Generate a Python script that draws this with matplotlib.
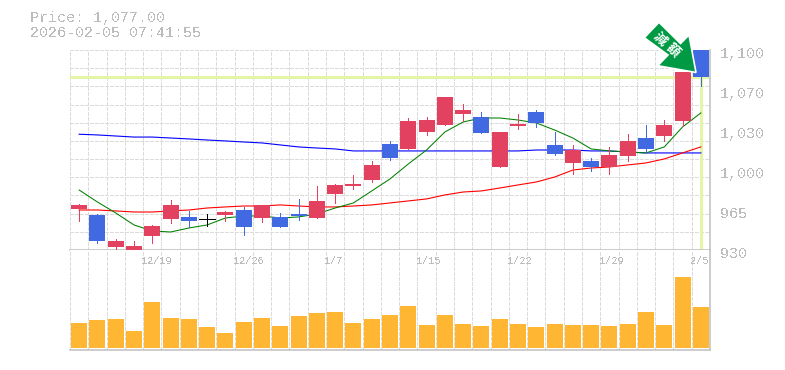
# Daily candlestick chart with moving averages and volume panel
import numpy as np
import matplotlib
matplotlib.use("Agg")
import matplotlib.pyplot as plt
from matplotlib.patches import Polygon
from matplotlib.transforms import blended_transform_factory

W, H = 785, 370

# Candles
opens = [965, 960, 932.5, 930, 942, 956.4, 958, 956, 959.8, 964, 957, 958, 960.6, 957.2, 977.6, 984.4, 989.5, 1020.1,
         1015.9, 1030.3, 1036.3, 1045.6, 1043, 1000.6, 1035.4, 1047.3, 1019.3, 1004, 1005.7, 1000.6, 1010, 1025.2,
         1026.9, 1039.7, 1100]
closes = [968, 937.5, 937.7, 933.4, 950.4, 968.3, 954.7, 956, 962.3, 949.5, 968.3, 949.5, 958.9, 971.7, 985.3, 986,
          1002.3, 1008.2, 1039.7, 1040.5, 1060, 1049, 1029.5, 1030.3, 1037.1, 1038, 1011.6, 1015, 1000.6, 1010.8,
          1022.7, 1015.9, 1036.3, 1081.3, 1077]
highs = [969, 960.6, 939.4, 938, 951.3, 972.5, 963, 960.6, 963, 966.5, 968.3, 961.5, 973.4, 984.4, 986, 993.8,
         1005.7, 1022.7, 1042.2, 1043, 1060, 1054.1, 1047.3, 1030.3, 1045.6, 1049, 1030.3, 1019.3, 1008.2, 1017.6,
         1028.6, 1036.3, 1040.5, 1081.3, 1100]
lows = [954.7, 936, 930, 930, 936, 953, 949.5, 950.4, 954.7, 942.8, 953.8, 949.5, 955.5, 957.2, 970, 982, 987.8,
        1006.5, 1015.9, 1027.8, 1036.3, 1039.7, 1029.5, 1000.6, 1032.9, 1034.6, 1010.8, 994.6, 997.2, 994.6, 1005.7,
        1012.5, 1022.7, 1035.4, 1069.4]

# Moving averages
ma_short = [981, 970.8, 961.5, 951.3, 946.2, 945.3, 948.7, 951.3, 957.2, 958.9, 958.9, 957.2, 958.1, 960.6, 965.7,
            970, 980.2, 990.4, 1003.1, 1015, 1030.3, 1038.8, 1042.2, 1042.2, 1040.5, 1038, 1032, 1025.2, 1015.9,
            1014.2, 1013.3, 1012.5, 1017.6, 1034.6, 1046.5]
ma_mid = [964, 964, 963.2, 962.3, 962.3, 963.2, 964, 965.7, 966.6, 967.4, 967.4, 968.3, 967.4, 966.6, 966.6, 967.4,
          968.3, 970, 971.7, 973.4, 976.8, 979.3, 980.2, 982.7, 985.3, 987.8, 992, 998, 999.7, 1000.6, 1002.3, 1004,
          1007.4, 1012.5, 1017.6]
ma_long = [1028.4, 1027.8, 1026.9, 1026, 1026, 1025.2, 1024.4, 1023.5, 1022.7, 1021.8, 1021, 1019.3, 1017.6, 1016.7,
           1015.9, 1014.2, 1014.2, 1014.2, 1014.2, 1014.2, 1014.2, 1014.2, 1014.2, 1014.2, 1014.2, 1015, 1015, 1015,
           1014.2, 1014.2, 1013.3, 1012.5, 1012.5, 1012.5, 1012.5]

# Volume, relative only since the chart has no scale for it
volume = [25, 28, 29, 17, 46, 30, 29, 21, 15, 26, 30, 22, 32, 35, 36, 25, 29, 33, 42, 23, 33, 24, 22, 29, 24, 21, 24,
          23, 23, 22, 24, 36, 23, 71, 41]

date_pos = [4, 9, 14, 19, 24, 29, 34]
date_labels = ["12/19", "12/26", "1/7", "1/15", "1/22", "1/29", "2/5"]
price_ticks = [1100, 1066, 1032, 998, 964, 930]
price_labels = ["1,100", "1,070", "1,030", "1,000", "965", "930"]
last_price = 1077

UP = "#e2425f"
DOWN = "#4169e1"
GRID = "#dcdcdc"
FRAME = "#bebebe"
LIME = "#e4f5a8"
TEXT = "#bcbcbc"
PX = 0.72  # one pixel in points

plt.rcParams["font.family"] = ["Liberation Mono", "DejaVu Sans Mono"]
plt.rcParams["text.antialiased"] = False

fig = plt.figure(figsize=(W / 100, H / 100), dpi=100)


def panel(x0, y0, x1, y1):
    return fig.add_axes([x0 / W, 1 - y1 / H, (x1 - x0) / W, (y1 - y0) / H])


ax = panel(70, 50, 710, 250)
vol = panel(70, 250, 710, 350)
x = np.arange(len(opens))

for a in (ax, vol):
    a.set_xlim(-0.5, len(opens) - 0.5)
    a.set_xticks(np.arange(-0.5, len(opens), 1))
    a.tick_params(length=0, labelbottom=False, labelleft=False)
    a.grid(axis="x", color=GRID, lw=PX, ls=(0, (3, 2)), antialiased=False)
    a.set_axisbelow(True)
    for s in a.spines.values():
        s.set_visible(False)
    a.spines["right"].set_visible(True)
    a.spines["right"].set_color(FRAME)
    a.spines["right"].set_linewidth(1.1)
    a.spines["bottom"].set_visible(True)
    a.spines["bottom"].set_color(FRAME)
    a.spines["bottom"].set_linewidth(1.1)

# Price panel
ax.set_ylim(930, 1100)
ax.set_yticks(np.linspace(930, 1100, 12))
ax.grid(axis="y", color=GRID, lw=PX, ls=(0, (3, 2)), antialiased=False)

ax.axhline(last_price, color=LIME, lw=2.2, zorder=1)
ax.vlines(x[-1], 930, last_price, color=LIME, lw=2.2, zorder=1)

ax.plot(x, ma_long, color="#0000ff", lw=0.8, zorder=2)
ax.plot(x, ma_mid, color="#ff0000", lw=0.8, zorder=2)
ax.plot(x, ma_short, color="#008000", lw=0.75, zorder=2)

for i in x:
    o, c = opens[i], closes[i]
    col = UP if c > o else DOWN if c < o else "black"
    ax.vlines(i, lows[i], highs[i], color=col, lw=PX, zorder=3, antialiased=False)
    if c == o:
        ax.hlines(c, i - 0.44, i + 0.44, color=col, lw=PX, zorder=3, antialiased=False)
    else:
        ax.bar(i, abs(c - o), bottom=min(o, c), width=0.875, color=col, lw=0, zorder=3)

# Volume panel
vol.set_ylim(-2, 98)
vol.set_yticks([])
vol.bar(x, volume, width=0.875, color="#ffb733", lw=0, zorder=3)

# Date labels sit just under the price panel
tr = blended_transform_factory(vol.transData, vol.transAxes)
for p, lab in zip(date_pos, date_labels):
    vol.text(p - 0.58, 0.885, lab, transform=tr, fontsize=7.3, color=TEXT, ha="left", va="center", zorder=4)

for p, lab in zip(price_ticks, price_labels):
    ax.annotate(lab, (1, p), xycoords=("axes fraction", "data"), xytext=(7.2, -2.6), textcoords="offset points",
                fontsize=10.8, color=TEXT, ha="left", va="center", annotation_clip=False)

fig.text(30 / W, 1 - 18 / H, "Price: 1,077.00", fontsize=10.8, color=TEXT, va="center")
fig.text(30 / W, 1 - 33 / H, "2026-02-05 07:41:55", fontsize=10.8, color=TEXT, va="center")

# Marker arrow
arrow = np.array([[659, 22.3], [680.5, 43.5], [689, 35], [696, 72.5], [657.7, 65.7], [668, 55], [644.3, 37.7]])
fig.add_artist(Polygon(arrow / [W, H] * [1, -1] + [0, 1], closed=True, transform=fig.transFigure,
                       facecolor="#009944", edgecolor="white", lw=1.2, zorder=10))
for px, py, ch in [(660, 39, "減"), (673, 50, "額")]:
    fig.text(px / W, 1 - py / H, ch, family=["Noto Sans CJK JP", "DejaVu Sans"], fontsize=9.5, fontweight="bold",
             color="white", rotation=-45, ha="center", va="center", rotation_mode="anchor", zorder=11,
             antialiased=True)

fig.savefig("out.png", dpi=100, facecolor="white")
